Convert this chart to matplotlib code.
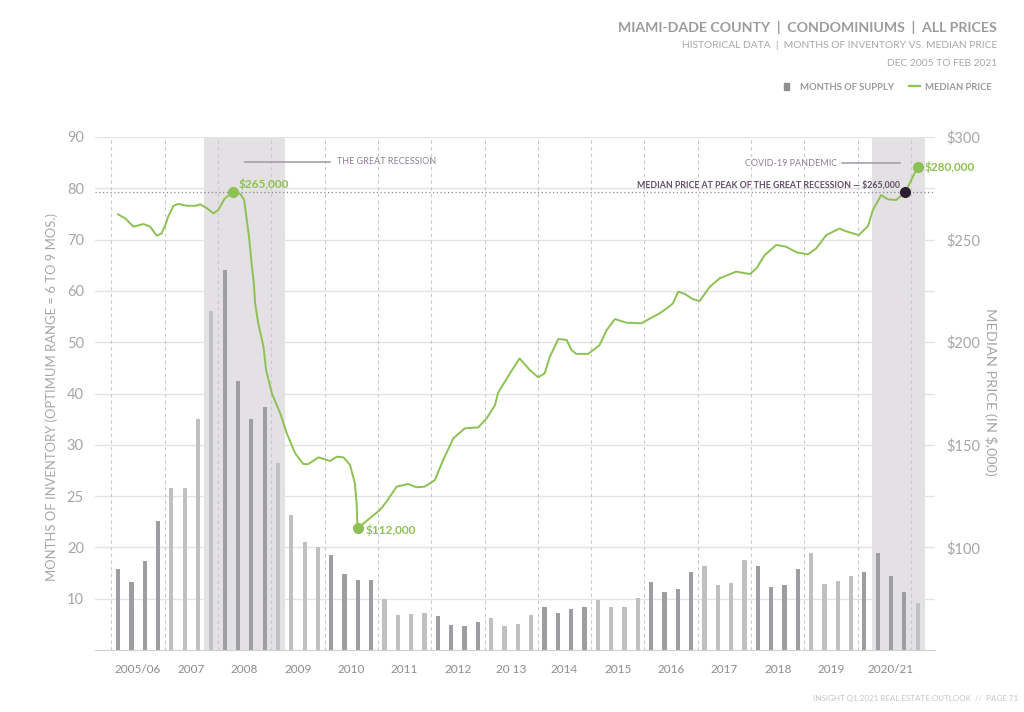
import numpy as np
import matplotlib.pyplot as plt
from matplotlib.patches import Patch
from matplotlib.lines import Line2D

plt.rcParams['font.family'] = ['Lato', 'DejaVu Sans']

# months of supply, one bar per quarter (Dec 2005 .. Feb 2021)
supply = [15.7, 13.3, 17.3, 22.6, 25.8, 25.8, 35.0, 56.0, 64.0, 42.4,
          35.0, 37.3, 28.2, 23.2, 20.5, 20.0, 18.5, 14.9, 13.6, 13.6,
          9.9, 6.8, 7.0, 7.3, 6.6, 4.9, 4.7, 5.5, 6.2, 4.7,
          5.1, 6.8, 8.4, 7.3, 8.0, 8.4, 9.7, 8.3, 8.3, 10.1,
          13.3, 11.4, 11.9, 15.2, 16.4, 12.7, 13.1, 17.6, 16.3, 12.3,
          12.7, 15.7, 19.0, 12.9, 13.4, 14.4, 15.2, 18.9, 14.4, 11.3,
          9.2]

# median price ($,000); month 0 = Dec 2005, 182 = Feb 2021
price_month = [0, 1.6, 3.5, 5.8, 7.3, 8.8, 9.9, 10.9, 11.4, 12.6,
               13.7, 15.6, 17.8, 18.7, 20.2, 21.7, 22.8, 24.3, 26.2, 27.8,
               28.7, 29.3, 29.8, 30.4, 30.9, 31.2, 31.9, 33.1, 33.7, 35.0,
               36.9, 38.4, 40.3, 42.2, 43.3, 45.6, 47.5, 48.2, 49.8, 51.3,
               52.8, 53.9, 54.3, 54.5, 57.3, 59.6, 61.1, 63.4, 66.0, 67.9,
               69.8, 72.1, 74.0, 76.3, 78.9, 82.0, 83.9, 85.8, 86.5, 89.2,
               91.4, 93.7, 95.6, 97.1, 98.3, 100.2, 102.1, 103.2, 104.3, 107.0,
               109.6, 111.2, 113.1, 115.7, 119.1, 121.8, 123.3, 125.6, 126.3, 127.5,
               129.0, 130.9, 132.4, 134.7, 137.0, 140.7, 143.8, 145.3, 147.2, 149.8,
               152.1, 154.4, 157.0, 158.9, 161.2, 164.2, 165.0, 166.5, 168.6, 170.7,
               171.8, 173.7, 175.2, 177.1, 179.2, 182.0]
price = [262.3, 260.4, 256.3, 257.6, 256.3, 251.9, 253.0, 257.9, 261.2, 266.4,
         267.4, 266.5, 266.5, 267.2, 265.3, 262.8, 264.4, 270.1, 273.2, 272.3,
         269.4, 259.6, 251.4, 238.4, 228.7, 219.0, 209.2, 197.8, 186.5, 175.1,
         165.4, 155.6, 145.9, 140.6, 140.6, 143.9, 142.6, 142.1, 144.2, 143.9,
         140.2, 131.2, 121.5, 109.3, 114.2, 118.2, 122.3, 129.6, 130.9, 129.3,
         129.6, 132.8, 142.6, 153.1, 158.0, 158.5, 162.9, 169.4, 175.4, 184.8,
         192.1, 186.5, 182.9, 184.8, 193.0, 201.6, 201.1, 196.2, 194.3, 194.3,
         198.6, 205.9, 211.3, 209.5, 209.2, 212.4, 214.1, 217.6, 219.0, 224.6,
         223.5, 220.9, 220.1, 227.1, 231.2, 234.4, 233.2, 236.0, 242.5, 247.4,
         246.5, 243.8, 242.8, 245.7, 252.2, 255.4, 254.6, 253.5, 252.2, 256.6,
         264.4, 271.7, 269.6, 269.3, 273.1, 285.5]

year_labels = ['2005/06', '2007', '2008', '2009', '2010', '2011', '2012', '20 13',
               '2014', '2015', '2016', '2017', '2018', '2019', '2020/21']

# left axis: evenly spaced but non-linear levels
left_levels = [0, 10, 20, 25, 30, 40, 50, 60, 70, 80, 90]
right_ticks = [100, 150, 200, 250, 300]

green = '#8dc153'
grey_txt = '#a6a6a6'

fig = plt.figure(figsize=(10.24, 7.12), dpi=100)
ax = fig.add_axes([95/1024, 1-650/712, 840/1024, 513/712])

pos = np.arange(len(left_levels))
ax.set_yscale('function', functions=(lambda v: np.interp(v, left_levels, pos),
                                     lambda p: np.interp(p, pos, left_levels)))
ax.set_ylim(0, 90)
ax.set_xlim(-1.73, 61.3)

# shaded periods
ax.axvspan(6.47, 12.53, color='#e4e1e5', zorder=0, lw=0)
ax.axvspan(56.6, 60.54, color='#e4e1e5', zorder=0, lw=0)

for v in left_levels[1:]:
    ax.axhline(v, color='#e3e3e3', lw=1, zorder=1)
for k in range(16):
    ax.axvline(4*k - 0.5, color='#c9c9c9', lw=0.8, ls=(0, (3, 3)), zorder=1)

xb = np.arange(len(supply))
cols = ['#9e9ea2' if (i // 4) % 2 == 0 else '#c0c0c2' for i in xb]
ax.bar(xb, supply, width=0.32, color=cols, zorder=2)

ax.set_yticks(left_levels[1:])
ax.set_yticklabels([str(v) for v in left_levels[1:]])
ax.yaxis.set_minor_locator(plt.NullLocator())
xt = [4*k + 1.5 for k in range(14)] + [58.0]
ax.set_xticks(xt)
ax.set_xticklabels(year_labels)
ax.tick_params(axis='both', length=0, colors=grey_txt)
ax.tick_params(axis='y', labelsize=10.5, pad=8)
ax.tick_params(axis='x', labelsize=8.5, pad=10, labelcolor='#8c8c8c')
for s in ['top', 'left', 'right']:
    ax.spines[s].set_visible(False)
ax.spines['bottom'].set_color('#cfcfcf')

ax2 = ax.twinx()
ax2.set_ylim(50, 300)
ax2.set_yticks(right_ticks)
ax2.set_yticklabels(['$%d' % v for v in right_ticks])
ax2.tick_params(axis='y', length=0, labelsize=10.5, colors=grey_txt, pad=8)
for s in ax2.spines.values():
    s.set_visible(False)

fig.text(52/1024, 1-397/712, 'MONTHS OF INVENTORY (OPTIMUM RANGE = 6 TO 9 MOS.)',
         rotation=90, ha='center', va='center', fontsize=9.4, color=grey_txt)
fig.text(990/1024, 1-392/712, 'MEDIAN PRICE (IN $,000)',
         rotation=-90, ha='center', va='center', fontsize=10.4, color=grey_txt)

# the line spans the same range as the bars (month 182 -> last bar)
xm = np.array(price_month) * (len(supply) - 1) / 182.0
ax2.plot(xm, price, color=green, lw=1.4, zorder=3)

i_peak = int(np.argmax(price[:40]))
i_low = int(np.argmin(price))
peak = price[i_peak]
ax2.axhline(peak, color='#8a8a8a', lw=0.9, ls=(0, (1, 2)), zorder=2)

ax2.plot(xm[i_peak], peak, 'o', color=green, ms=7, zorder=4)
ax2.plot(xm[i_low], price[i_low], 'o', color=green, ms=7, zorder=4)
ax2.plot(xm[-1], price[-1], 'o', color=green, ms=7, zorder=4)
ax2.plot(xm[-2], price[-2], 'o', color='#2e1b33', ms=7, zorder=4)

ax2.annotate('$265,000', (xm[i_peak], peak), xytext=(4, 6), textcoords='offset points',
             ha='left', va='center', color=green, fontsize=8.5, fontweight='bold')
ax2.annotate('$112,000', (xm[i_low], price[i_low]), xytext=(6, -1.5), textcoords='offset points',
             ha='left', va='center', color=green, fontsize=8.5, fontweight='bold')
ax2.annotate('$280,000', (xm[-1], price[-1]), xytext=(5, 0), textcoords='offset points',
             ha='left', va='center', color=green, fontsize=8.5, fontweight='bold')

# callouts
ax.plot([0.1786, 0.2798], [0.9513, 0.9513], transform=ax.transAxes, color='#a197a4', lw=1.1)
ax.text(0.288, 0.9513, 'THE GREAT RECESSION', transform=ax.transAxes, fontsize=6.5,
        color='#8e8192', va='center', ha='left')
ax.plot([0.889, 0.958], [0.949, 0.949], transform=ax.transAxes, color='#a197a4', lw=1.1)
ax.text(0.883, 0.949, 'COVID-19 PANDEMIC', transform=ax.transAxes, fontsize=6.5,
        color='#8e8192', va='center', ha='right')
ax.text(0.958, 0.906, 'MEDIAN PRICE AT PEAK OF THE GREAT RECESSION \u2014 $265,000',
        transform=ax.transAxes, fontsize=6.3, fontweight='bold', color='#5e4f62',
        va='center', ha='right')

# header
fig.text(997/1024, 1-27/712, 'MIAMI-DADE COUNTY  |  CONDOMINIUMS  |  ALL PRICES',
         ha='right', va='center', fontsize=10.2, fontweight='bold', color='#9c9c9c')
fig.text(997/1024, 1-46/712, 'HISTORICAL DATA  |  MONTHS OF INVENTORY VS. MEDIAN PRICE',
         ha='right', va='center', fontsize=7.4, color='#a8a8a8')
fig.text(997/1024, 1-63/712, 'DEC 2005 TO FEB 2021',
         ha='right', va='center', fontsize=7.4, color='#a8a8a8')

handles = [Patch(color='#8e8e92'), Line2D([0], [0], color=green, lw=1.6)]
leg = fig.legend(handles, ['MONTHS OF SUPPLY', 'MEDIAN PRICE'], ncol=2, frameon=False,
                 loc='center right', bbox_to_anchor=(1000/1024, 1-87/712),
                 prop={'size': 6.8, 'weight': 'bold'}, handlelength=1.2, handleheight=0.8,
                 columnspacing=1.6, handletextpad=0.5)
for t in leg.get_texts():
    t.set_color('#9a9a9a')
leg.legend_handles[0].set_width(4)

fig.text(1018/1024, 1-699/712, 'INSIGHT Q1 2021 REAL ESTATE OUTLOOK  //  PAGE 71',
         ha='right', va='center', fontsize=5.8, color='#c6c6c6')

fig.savefig('out.png', dpi=100)
